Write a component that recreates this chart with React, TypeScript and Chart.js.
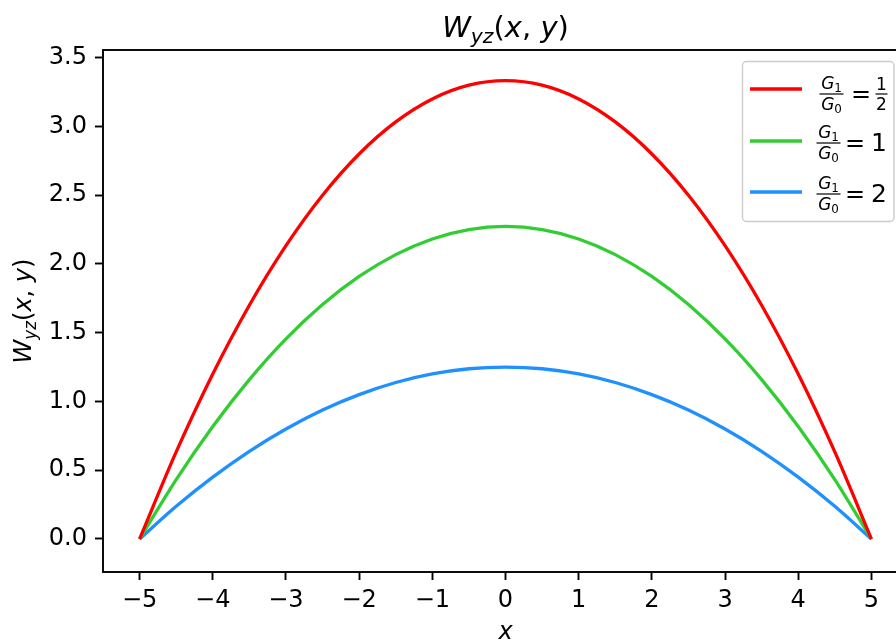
import { useEffect, useRef } from "react";
import { Chart, registerables } from "chart.js";

Chart.register(...registerables);

const xValues = [-5, -4.5, -4, -3.5, -3, -2.5, -2, -1.5, -1, -0.5, 0, 0.5, 1, 1.5, 2, 2.5, 3, 3.5, 4, 4.5, 5];
const redValues = [0, 0.633, 1.2, 1.7, 2.133, 2.5, 2.8, 3.033, 3.2, 3.3, 3.333, 3.3, 3.2, 3.033, 2.8, 2.5, 2.133, 1.7, 1.2, 0.633, 0];
const greenValues = [0, 0.432, 0.818, 1.159, 1.455, 1.705, 1.909, 2.068, 2.182, 2.25, 2.273, 2.25, 2.182, 2.068, 1.909, 1.705, 1.455, 1.159, 0.818, 0.432, 0];
const blueValues = [0, 0.238, 0.45, 0.638, 0.8, 0.938, 1.05, 1.138, 1.2, 1.238, 1.25, 1.238, 1.2, 1.138, 1.05, 0.938, 0.8, 0.638, 0.45, 0.238, 0];
const xTicks = [-5, -4, -3, -2, -1, 0, 1, 2, 3, 4, 5];
const yTicks = [0, 0.5, 1, 1.5, 2, 2.5, 3, 3.5];
const seriesColors = ["#ff0000", "#32cd32", "#1e90ff"];
const ratioNumerators = ["1", "1", "2"];
const ratioDenominators = ["2", "", ""];

const FONT = '"DejaVu Sans"';

type Run = { t: string; it?: boolean; s?: number; dy?: number };

function runsWidth(ctx: CanvasRenderingContext2D, runs: Run[], size: number) {
  let w = 0;
  for (const r of runs) {
    ctx.font = `${r.it ? "italic " : ""}${size * (r.s ?? 1)}px ${FONT}`;
    w += ctx.measureText(r.t).width;
  }
  return w;
}

function drawRuns(ctx: CanvasRenderingContext2D, runs: Run[], x: number, y: number, size: number) {
  let cx = x;
  ctx.textBaseline = "alphabetic";
  ctx.textAlign = "left";
  for (const r of runs) {
    ctx.font = `${r.it ? "italic " : ""}${size * (r.s ?? 1)}px ${FONT}`;
    ctx.fillText(r.t, cx, y + (r.dy ?? 0) * size);
    cx += ctx.measureText(r.t).width;
  }
  return cx;
}

const wyzRuns: Run[] = [
  { t: "W", it: true },
  { t: "yz", it: true, s: 0.7, dy: 0.22 },
  { t: "(" },
  { t: "x", it: true },
  { t: ", " },
  { t: "y", it: true },
  { t: ")" },
];

const decorPlugin = {
  id: "decor",
  afterDraw(chart: any) {
    const ctx: CanvasRenderingContext2D = chart.ctx;
    const a = chart.chartArea;
    ctx.save();
    // frame
    ctx.strokeStyle = "#000";
    ctx.lineWidth = 1.9;
    ctx.strokeRect(a.left, a.top, a.right - a.left, a.bottom - a.top);
    ctx.fillStyle = "#000";
    // title
    const tSize = 29;
    const tw = runsWidth(ctx, wyzRuns, tSize);
    const cxm = (a.left + a.right) / 2;
    drawRuns(ctx, wyzRuns, cxm - tw / 2, 37, tSize);
    // x label
    ctx.font = `italic 24px ${FONT}`;
    ctx.textAlign = "center";
    ctx.fillText("x", cxm, 639);
    // y label
    const lSize = 24;
    const lw = runsWidth(ctx, wyzRuns, lSize);
    ctx.save();
    ctx.translate(31, (a.top + a.bottom) / 2);
    ctx.rotate(-Math.PI / 2);
    drawRuns(ctx, wyzRuns, -lw / 2, 0, lSize);
    ctx.restore();

    // legend
    const bx = 742.5, by = 61.5, bw = 151.5, bh = 160;
    ctx.beginPath();
    ctx.roundRect(bx, by, bw, bh, 4);
    ctx.fillStyle = "rgba(255,255,255,0.8)";
    ctx.fill();
    ctx.strokeStyle = "#cccccc";
    ctx.lineWidth = 1.4;
    ctx.stroke();

    const rowLine = [89, 141, 192];
    const rowBar = [94, 143, 194];
    const fSize = 17;
    for (let i = 0; i < 3; i++) {
      const ly = rowLine[i];
      const bar = rowBar[i];
      ctx.strokeStyle = seriesColors[i];
      ctx.lineWidth = 3.3;
      ctx.beginPath();
      ctx.moveTo(750, ly);
      ctx.lineTo(802, ly);
      ctx.stroke();
      ctx.fillStyle = "#000";
      const hasSmall = ratioDenominators[i] !== "";
      const fcx = hasSmall ? 831.5 : 828.5;
      const numRuns: Run[] = [{ t: "G", it: true }, { t: "1", s: 0.7, dy: 0.15 }];
      const denRuns: Run[] = [{ t: "G", it: true }, { t: "0", s: 0.7, dy: 0.15 }];
      const nw = runsWidth(ctx, numRuns, fSize);
      const dw = runsWidth(ctx, denRuns, fSize);
      drawRuns(ctx, numRuns, fcx - nw / 2, bar - 5, fSize);
      drawRuns(ctx, denRuns, fcx - dw / 2, bar + 16, fSize);
      ctx.strokeStyle = "#000";
      ctx.lineWidth = 1.2;
      ctx.beginPath();
      ctx.moveTo(fcx - 12, bar);
      ctx.lineTo(fcx + 12, bar);
      ctx.stroke();
      ctx.font = `24px ${FONT}`;
      ctx.textAlign = "left";
      const eqX = hasSmall ? 851 : 845;
      ctx.fillText("=", eqX, bar + 8);
      if (hasSmall) {
        const scx = 881.5;
        ctx.font = `17px ${FONT}`;
        ctx.textAlign = "center";
        ctx.fillText(ratioNumerators[i], scx, bar - 4);
        ctx.fillText(ratioDenominators[i], scx, bar + 16);
        ctx.beginPath();
        ctx.moveTo(scx - 6, bar);
        ctx.lineTo(scx + 6, bar);
        ctx.stroke();
      } else {
        ctx.font = `25px ${FONT}`;
        ctx.textAlign = "left";
        ctx.fillText(ratioNumerators[i], 871, bar + 8);
      }
    }
    ctx.restore();
  },
};

export default function App() {
  const ref = useRef<HTMLCanvasElement | null>(null);
  useEffect(() => {
    if (!ref.current) return;
    const mk = (vals: number[]) => xValues.map((x, i) => ({ x, y: vals[i] }));
    const chart = new Chart(ref.current, {
      type: "line",
      data: {
        datasets: [redValues, greenValues, blueValues].map((v, i) => ({
          label: `s${i}`,
          data: mk(v),
          borderColor: seriesColors[i],
          backgroundColor: seriesColors[i],
          borderWidth: 3.3,
          pointRadius: 0,
          cubicInterpolationMode: "monotone" as const,
          fill: false,
        })),
      },
      options: {
        animation: false,
        responsive: false,
        events: [],
        layout: { padding: { left: 0, right: 22, top: 50, bottom: 0 } },
        plugins: { legend: { display: false }, title: { display: false }, tooltip: { enabled: false } },
        scales: {
          x: {
            type: "linear",
            min: -5.5,
            max: 5.5,
            afterFit: (s: any) => { s.height = 71; },
            afterBuildTicks: (s: any) => { s.ticks = xTicks.map((v) => ({ value: v })); },
            border: { display: false },
            grid: { drawOnChartArea: false, drawTicks: true, tickLength: 8, tickWidth: 1.9, tickColor: "#000", color: "#000" },
            ticks: {
              padding: 6,
              color: "#000",
              font: { family: "DejaVu Sans", size: 24 },
              maxRotation: 0,
              callback: (v: any) => (Number(v) < 0 ? "\u2212" + Math.abs(Number(v)) : String(v)),
            },
          },
          y: {
            type: "linear",
            min: -0.24,
            max: 3.556,
            afterFit: (s: any) => { s.width = 103; },
            afterBuildTicks: (s: any) => { s.ticks = yTicks.map((v) => ({ value: v })); },
            border: { display: false },
            grid: { drawOnChartArea: false, drawTicks: true, tickLength: 8, tickWidth: 1.9, tickColor: "#000", color: "#000" },
            ticks: {
              padding: 8,
              color: "#000",
              font: { family: "DejaVu Sans", size: 24 },
              callback: (v: any) => Number(v).toFixed(1),
            },
          },
        },
      },
      plugins: [decorPlugin],
    } as any);
    return () => chart.destroy();
  }, []);
  return (
    <div style={{ position: "fixed", left: 0, top: 0, width: 896, height: 643, overflow: "hidden", background: "#fff" }}>
      <canvas ref={ref} width={930} height={643} style={{ width: 930, height: 643, display: "block" }} />
    </div>
  );
}
